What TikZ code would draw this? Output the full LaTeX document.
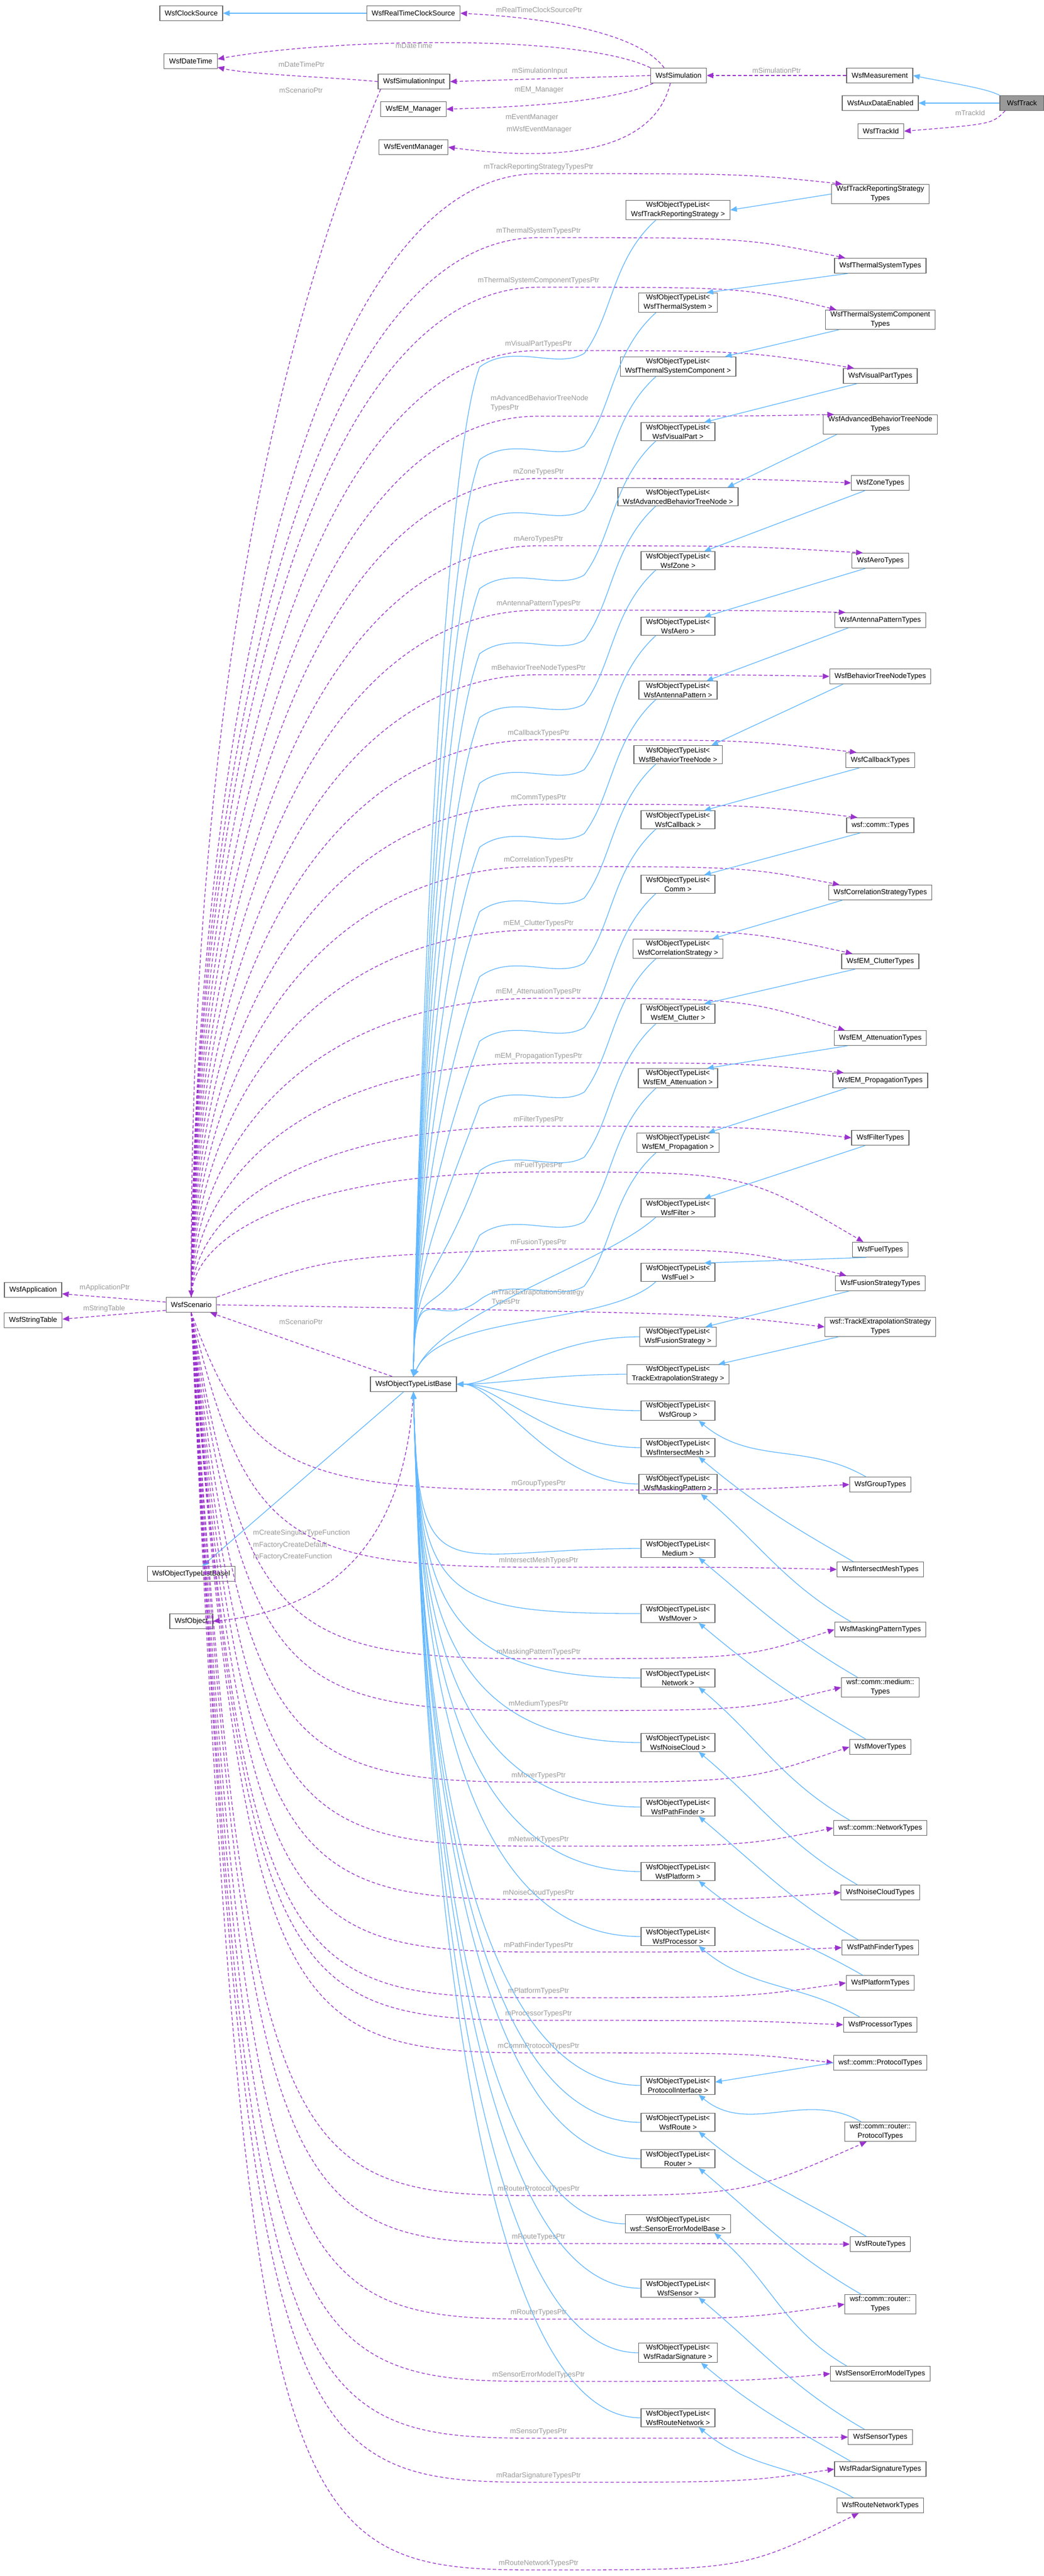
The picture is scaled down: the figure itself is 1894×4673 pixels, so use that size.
\documentclass[tikz,border=0pt]{standalone}
\usepackage{fontspec}
\setmainfont{Liberation Sans}
\usetikzlibrary{arrows.meta,calc}
\definecolor{eblue}{HTML}{63B8FF}
\definecolor{epurp}{HTML}{9A32CD}
\definecolor{lgray}{HTML}{9A9A9A}
\definecolor{bgray}{HTML}{666666}
\newcommand\fs{\fontsize{13}{17}\selectfont}
\newcommand\otl[3]{\node[box] (o#1) at (1230,#2) {WsfObjectTypeList<\\#3 >};}
\newcommand\typ[3]{\node[box] (t#1) at (1597,#2) {#3};}
% scenario -> types: name, label y, label, anchor, dx
\newcommand\up[5]{\draw[dep] (scen.north) .. controls (350,{#2+0.5*(2354-#2)}) and (560,#2+12) .. (977,#2+12) .. controls (1350,#2+12) .. ($(t#1.#4)+(#5,0)$);
\node[lbl] at (977,#2) {#3};}
\newcommand\dn[5]{\draw[dep] (scen.south) .. controls (445,#2-40) and (520,#2+12) .. (977,#2+12) .. controls (1350,#2+12) .. ($(t#1.#4)+(#5,0)$);
\node[lbl] at (977,#2) {#3};}
% OTL -> base
\newcommand\ob[2]{\draw[inh] ($(o#1.south)+(-40,0)$) .. controls (1110,#2+90) and (1112,#2+190) .. (1060,#2+260) .. controls (1010,#2+290) and (930,#2+240) .. (870,#2+285) .. controls (790,{min(#2+500,2420)}) and (752,2300) .. (base.north);}
\newcommand\obf[2]{\draw[inh] ($(o#1.south)+(-40,0)$) .. controls (1100,#2+100) and (800,2380) .. (base.north);}
\newcommand\obm[2]{\draw[inh] (o#1.west) .. controls (1000,#2) and (900,2511) .. (base.east);}
\newcommand\obl[2]{\draw[inh] (o#1.west) .. controls (800,#2) and (760,2900) .. (base.south);}
% types -> OTL
\newcommand\tou[1]{\draw[inh] ($(t#1.south west)+(25,0)$) -- ($(o#1.north east)+(-20,0)$);}
\newcommand\tol[2]{\draw[inh] ($(t#1.north west)+(30,0)$) to[out=150,in=-40] ($(o#2.south east)+(-30,0)$);}
\begin{document}
\begin{tikzpicture}[x=1pt,y=-1pt,
 box/.style={draw=bgray,line width=1.2pt,fill=white,inner xsep=9pt,inner ysep=3pt,minimum height=27pt,align=center,font=\fs},
 lbl/.style={text=lgray,font=\fs,inner sep=1pt},
 inh/.style={draw=eblue,line width=1.3pt,-{Triangle[length=12pt,width=10pt]}},
 dep/.style={draw=epurp,line width=1.3pt,dash pattern=on 6pt off 4pt,-{Triangle[length=12pt,width=10pt]}}]
\useasboundingbox[fill=white] (0,0) rectangle (1894,4673);
% top nodes
\node[box] (clock) at (347,24) {WsfClockSource};
\node[box] (rtc) at (750,24) {WsfRealTimeClockSource};
\node[box] (dt) at (346,111) {WsfDateTime};
\node[box] (siminp) at (751,148) {WsfSimulationInput};
\node[box] (em) at (750,198) {WsfEM\_Manager};
\node[box] (ev) at (750,267) {WsfEventManager};
\node[box] (sim) at (1231,137) {WsfSimulation};
\node[box] (meas) at (1596,137) {WsfMeasurement};
\node[box] (aux) at (1597,187) {WsfAuxDataEnabled};
\node[box] (tid) at (1598,238) {WsfTrackId};
\node[box,fill=black!40,minimum width=80pt,inner xsep=4pt] (track) at (1854,187) {WsfTrack};
% left nodes
\node[box] (app) at (60,2340) {WsfApplication};
\node[box] (str) at (60,2395) {WsfStringTable};
\node[box] (scen) at (347,2367) {WsfScenario};
\node[box] (base) at (750,2511) {WsfObjectTypeListBase};
\node[box] (basei) at (347,2855) {WsfObjectTypeListBaseI};
\node[box] (obj) at (347,2941) {WsfObject};
% OTL column
\otl{trs}{381}{WsfTrackReportingStrategy}
\otl{ths}{549}{WsfThermalSystem}
\otl{tsc}{665}{WsfThermalSystemComponent}
\otl{vis}{783}{WsfVisualPart}
\otl{abt}{901}{WsfAdvancedBehaviorTreeNode}
\otl{zone}{1017}{WsfZone}
\otl{aero}{1136}{WsfAero}
\otl{ant}{1252}{WsfAntennaPattern}
\otl{btn}{1369}{WsfBehaviorTreeNode}
\otl{cb}{1487}{WsfCallback}
\otl{comm}{1604}{Comm}
\otl{corr}{1721}{WsfCorrelationStrategy}
\otl{clut}{1839}{WsfEM\_Clutter}
\otl{att}{1956}{WsfEM\_Attenuation}
\otl{prop}{2073}{WsfEM\_Propagation}
\otl{filt}{2191}{WsfFilter}
\otl{fuel}{2308}{WsfFuel}
\otl{fus}{2425}{WsfFusionStrategy}
\otl{tex}{2493}{TrackExtrapolationStrategy}
\otl{grp}{2559}{WsfGroup}
\otl{im}{2626}{WsfIntersectMesh}
\otl{mask}{2692}{WsfMaskingPattern}
\otl{med}{2809}{Medium}
\otl{mov}{2927}{WsfMover}
\otl{net}{3044}{Network}
\otl{nc}{3161}{WsfNoiseCloud}
\otl{pf}{3278}{WsfPathFinder}
\otl{plat}{3395}{WsfPlatform}
\otl{proc}{3513}{WsfProcessor}
\otl{pi}{3783}{ProtocolInterface}
\otl{route}{3850}{WsfRoute}
\otl{rtr}{3916}{Router}
\otl{sem}{4034}{wsf::SensorErrorModelBase}
\otl{sens}{4151}{WsfSensor}
\otl{rad}{4268}{WsfRadarSignature}
\otl{rn}{4386}{WsfRouteNetwork}
% types column
\typ{trs}{352}{WsfTrackReportingStrategy\\Types}
\typ{ths}{482}{WsfThermalSystemTypes}
\typ{tsc}{580}{WsfThermalSystemComponent\\Types}
\typ{vis}{682}{WsfVisualPartTypes}
\typ{abt}{770}{WsfAdvancedBehaviorTreeNode\\Types}
\typ{zone}{876}{WsfZoneTypes}
\typ{aero}{1017}{WsfAeroTypes}
\typ{ant}{1125}{WsfAntennaPatternTypes}
\typ{btn}{1227}{WsfBehaviorTreeNodeTypes}
\typ{cb}{1379}{WsfCallbackTypes}
\typ{comm}{1497}{wsf::comm::Types}
\typ{corr}{1619}{WsfCorrelationStrategyTypes}
\typ{clut}{1744}{WsfEM\_ClutterTypes}
\typ{att}{1883}{WsfEM\_AttenuationTypes}
\typ{prop}{1960}{WsfEM\_PropagationTypes}
\typ{filt}{2064}{WsfFilterTypes}
\typ{fuel}{2267}{WsfFuelTypes}
\typ{fus}{2328}{WsfFusionStrategyTypes}
\typ{tex}{2407}{wsf::TrackExtrapolationStrategy\\Types}
\typ{grp}{2693}{WsfGroupTypes}
\typ{im}{2847}{WsfIntersectMeshTypes}
\typ{mask}{2956}{WsfMaskingPatternTypes}
\typ{med}{3061}{wsf::comm::medium::\\Types}
\typ{mov}{3169}{WsfMoverTypes}
\typ{net}{3316}{wsf::comm::NetworkTypes}
\typ{nc}{3433}{WsfNoiseCloudTypes}
\typ{pf}{3533}{WsfPathFinderTypes}
\typ{plat}{3597}{WsfPlatformTypes}
\typ{proc}{3673}{WsfProcessorTypes}
\typ{cpt}{3742}{wsf::comm::ProtocolTypes}
\typ{rpt}{3867}{wsf::comm::router::\\ProtocolTypes}
\typ{route}{4071}{WsfRouteTypes}
\typ{rtr}{4180}{wsf::comm::router::\\Types}
\typ{sem}{4306}{WsfSensorErrorModelTypes}
\typ{sens}{4421}{WsfSensorTypes}
\typ{rad}{4479}{WsfRadarSignatureTypes}
\typ{rn}{4545}{WsfRouteNetworkTypes}
% top edges
\draw[inh] (rtc) -- (clock);
\draw[inh] (track.north west) .. controls (1790,160) and (1720,150) .. (meas.east);
\draw[inh] (track) -- (aux);
\draw[dep] (meas) -- (sim) node[lbl,midway,above=3pt] {mSimulationPtr};
\draw[dep] ($(track.south west)+(10,0)$) .. controls (1800,225) .. (tid.east);
\node[lbl] at (1760,205) {mTrackId};
\draw[dep] ($(sim.north west)+(25,0)$) .. controls (1150,50) and (950,30) .. (rtc.east);
\node[lbl] at (978,18) {mRealTimeClockSourcePtr};
\draw[dep] (sim.north west) .. controls (1050,60) and (600,70) .. ($(dt.east)+(0,-4)$);
\node[lbl] at (751,83) {mDateTime};
\draw[dep] (siminp.west) .. controls (600,140) and (450,135) .. ($(dt.south east)+(0,-3)$);
\node[lbl] at (547,117) {mDateTimePtr};
\draw[dep] (sim.west) -- (siminp.east);
\node[lbl] at (979,129) {mSimulationInput};
\draw[dep] ($(sim.south west)+(5,0)$) .. controls (1100,190) and (900,195) .. (em.east);
\node[lbl] at (978,163) {mEM\_Manager};
\draw[dep] ($(sim.south)+(-15,0)$) .. controls (1180,300) and (950,285) .. (ev.east);
\node[lbl] at (965,213) {mEventManager};
\node[lbl] at (978,235) {mWsfEventManager};
\draw[dep] ($(siminp.south west)+(5,0)$) .. controls (380,900) and (345,1800) .. (scen.north);
\node[lbl] at (546,164) {mScenarioPtr};
% left edges
\draw[dep] ($(scen.west)+(0,-5)$) -- ($(app.east)+(0,7)$);
\node[lbl] at (190,2336) {mApplicationPtr};
\draw[dep] ($(scen.west)+(0,10)$) -- ($(str.east)+(0,-2)$);
\node[lbl] at (189,2374) {mStringTable};
\draw[dep] ($(base.north west)+(40,0)$) -- ($(scen.south east)+(-12,0)$);
\node[lbl] at (546,2398) {mScenarioPtr};
\draw[inh] ($(base.south)+(-18,0)$) -- ($(basei.north)+(20,0)$);
\draw[dep] (base.south) .. controls (735,2800) and (600,2920) .. (obj.east);
\node[lbl,anchor=west] at (458,2781) {mCreateSingularTypeFunction};
\node[lbl,anchor=west] at (458,2803) {mFactoryCreateDefault};
\node[lbl,anchor=west] at (458,2824) {mFactoryCreateFunction};
% scenario -> types
\up{trs}{303}{mTrackReportingStrategyTypesPtr}{north west}{20}
\up{ths}{419}{mThermalSystemTypesPtr}{north west}{20}
\up{tsc}{509}{mThermalSystemComponentTypesPtr}{north west}{20}
\up{vis}{624}{mVisualPartTypesPtr}{north west}{20}
\up{abt}{743}{}{north west}{20}
\node[lbl,anchor=west,align=left] at (889,732) {mAdvancedBehaviorTreeNode\\TypesPtr};
\up{zone}{856}{mZoneTypesPtr}{west}{0}
\up{aero}{978}{mAeroTypesPtr}{north west}{20}
\up{ant}{1095}{mAntennaPatternTypesPtr}{north west}{20}
\up{btn}{1212}{mBehaviorTreeNodeTypesPtr}{west}{0}
\up{cb}{1330}{mCallbackTypesPtr}{north west}{20}
\up{comm}{1447}{mCommTypesPtr}{north west}{20}
\up{corr}{1560}{mCorrelationTypesPtr}{north west}{20}
\up{clut}{1675}{mEM\_ClutterTypesPtr}{north west}{20}
\up{att}{1799}{mEM\_AttenuationTypesPtr}{north west}{20}
\up{prop}{1916}{mEM\_PropagationTypesPtr}{north west}{20}
\up{filt}{2031}{mFilterTypesPtr}{west}{0}
\up{fuel}{2114}{mFuelTypesPtr}{north west}{20}
\draw[dep] (scen.north east) .. controls (600,2280) .. (977,2266) .. controls (1350,2266) .. ($(tfus.north west)+(20,0)$);
\node[lbl] at (977,2254) {mFusionTypesPtr};
\draw[dep] (scen.east) .. controls (700,2372) .. (977,2378) .. controls (1300,2385) .. (ttex.west);
\node[lbl,anchor=west,align=left] at (891,2354) {mTrackExtrapolationStrategy\\TypesPtr};
\dn{grp}{2691}{mGroupTypesPtr}{west}{0}
\dn{im}{2831}{mIntersectMeshTypesPtr}{west}{0}
\dn{mask}{2997}{mMaskingPatternTypesPtr}{west}{0}
\dn{med}{3091}{mMediumTypesPtr}{west}{0}
\dn{mov}{3221}{mMoverTypesPtr}{west}{0}
\dn{net}{3337}{mNetworkTypesPtr}{west}{0}
\dn{nc}{3434}{mNoiseCloudTypesPtr}{west}{0}
\dn{pf}{3529}{mPathFinderTypesPtr}{west}{0}
\dn{plat}{3612}{mPlatformTypesPtr}{west}{0}
\dn{proc}{3653}{mProcessorTypesPtr}{west}{0}
\dn{cpt}{3712}{mCommProtocolTypesPtr}{west}{0}
\dn{rpt}{3971}{mRouterProtocolTypesPtr}{south west}{40}
\dn{route}{4058}{mRouteTypesPtr}{west}{0}
\dn{rtr}{4195}{mRouterTypesPtr}{west}{0}
\dn{sem}{4308}{mSensorErrorModelTypesPtr}{west}{0}
\dn{sens}{4411}{mSensorTypesPtr}{west}{0}
\dn{rad}{4491}{mRadarSignatureTypesPtr}{west}{0}
\dn{rn}{4650}{mRouteNetworkTypesPtr}{south west}{40}
% OTL -> base
\foreach \n/\y in {trs/381,ths/549,tsc/665,vis/783,abt/901,zone/1017,aero/1136,ant/1252,btn/1369,cb/1487,comm/1604,corr/1721,clut/1839,att/1956,prop/2073}{\ob{\n}{\y}}
\obf{filt}{2191}
\obf{fuel}{2308}
\foreach \n/\y in {fus/2425,tex/2493,grp/2559,im/2626,mask/2692}{\obm{\n}{\y}}
\foreach \n/\y in {med/2809,mov/2927,net/3044,nc/3161,pf/3278,plat/3395,proc/3513,pi/3783,route/3850,rtr/3916,sem/4034,sens/4151,rad/4268,rn/4386}{\obl{\n}{\y}}
% types -> OTL
\draw[inh] (ttrs.west) -- (otrs.east);
\foreach \n in {ths,tsc,vis,abt,zone,aero,ant,btn,cb,comm,corr,clut,att,prop,filt,fuel,fus,tex}{\tou{\n}}
\foreach \n in {grp,im,mask,med,mov,net,nc,pf,plat,proc,route,rtr,sem,sens,rad,rn}{\tol{\n}{\n}}
\draw[inh] (tcpt.west) -- ($(opi.east)+(0,-6)$);
\tol{rpt}{pi}
\end{tikzpicture}
\end{document}
